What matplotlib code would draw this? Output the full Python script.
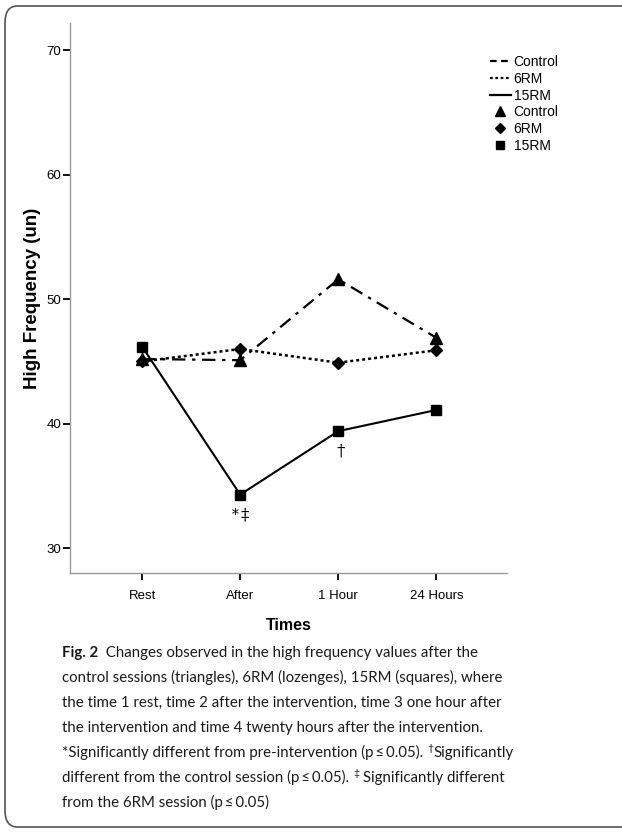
import matplotlib
matplotlib.use("Agg")
import matplotlib.pyplot as plt
from matplotlib.lines import Line2D
from matplotlib.patches import FancyBboxPatch

times = ["Rest", "After", "1 Hour", "24 Hours"]
control = [45.2, 45.1, 51.6, 46.9]
rm6 = [45.0, 46.0, 44.9, 45.9]
rm15 = [46.2, 34.3, 39.4, 41.1]
yticks = [30, 40, 50, 60, 70]

W, H = 622, 832
fig = plt.figure(figsize=(W / 100, H / 100), dpi=100)
chart_font = "Liberation Sans"
cap_font = "Lato"

# frame round the figure
frame = FancyBboxPatch((5 / W, 5 / H), (W + 20) / W, (H - 11) / H,
                       boxstyle="round,pad=0,rounding_size=0.02",
                       transform=fig.transFigure, fill=False,
                       edgecolor="#555555", linewidth=1.2)
fig.patches.append(frame)

ax = fig.add_axes([70 / W, (H - 573) / H, (507 - 70) / W, (573 - 23) / H])
x = [1, 2, 3, 4]
ax.plot(x, control, color="black", lw=1.6, linestyle=(0, (6, 3, 1.5, 3)),
        marker="^", markersize=8.5)
ax.plot(x, rm6, color="black", lw=1.8, linestyle=(0, (1.2, 1.2)),
        marker="D", markersize=6.5)
ax.plot(x, rm15, color="black", lw=1.5, linestyle="-",
        marker="s", markersize=6.5)

ax.set_xlim(0.265, 4.72)
ax.set_ylim(28.0, 72.2)
ax.set_xticks(x)
ax.set_xticklabels(times, fontfamily=chart_font, fontsize=9.5)
ax.set_yticks(yticks)
ax.set_yticklabels([str(v) for v in yticks], fontfamily=chart_font, fontsize=9.5)
ax.tick_params(axis="both", length=5, width=1.3, color="black", pad=1.5)
ax.tick_params(axis="x", pad=7)
for s in ["top", "right"]:
    ax.spines[s].set_visible(False)
for s in ["left", "bottom"]:
    ax.spines[s].set_color("#999999")
    ax.spines[s].set_linewidth(1.0)

ax.set_xlabel("Times", fontfamily=chart_font, fontsize=11.5, fontweight="bold", labelpad=12)
ax.set_ylabel("High Frequency (un)", fontfamily=chart_font, fontsize=13.5,
              fontweight="bold", labelpad=4)

ax.text(1.98, 34.3 - 1.6, "*", ha="right", va="center",
        fontfamily="DejaVu Serif", fontsize=10)
ax.text(2.05, 34.3 - 1.6, "\u2021", ha="center", va="center",
        fontfamily="DejaVu Serif", fontsize=12)
ax.text(3.02, 39.4 - 1.6, "\u2020", ha="center", va="center",
        fontfamily="DejaVu Serif", fontsize=12)

handles = [
    Line2D([], [], color="black", lw=1.6, linestyle=(0, (3, 2))),
    Line2D([], [], color="black", lw=1.6, linestyle=(0, (1.2, 1.2))),
    Line2D([], [], color="black", lw=1.6, linestyle="-"),
    Line2D([], [], color="black", lw=0, marker="^", markersize=7),
    Line2D([], [], color="black", lw=0, marker="D", markersize=5.5),
    Line2D([], [], color="black", lw=0, marker="s", markersize=5.5),
]
labels = ["Control", "6RM", "15RM", "Control", "6RM", "15RM"]
ax.legend(handles, labels, loc="upper left", bbox_to_anchor=((483 - 70) / (507 - 70), (573 - 48) / 550),
          frameon=False, prop={"family": chart_font, "size": 10},
          handlelength=1.5, handletextpad=0.2, labelspacing=0.2, borderpad=0)

# caption
renderer = fig.canvas.get_renderer()
cap_size = 10.8
x0 = 62
line_y = [652, 677, 702, 727, 752, 777, 802]


def draw_segments(segs, ytop):
    cx = x0
    for txt, size, weight, rise in segs:
        t = fig.text(cx / W, (H - ytop + rise) / H, txt, fontfamily=cap_font,
                     fontsize=size, fontweight=weight, va="baseline", ha="left",
                     color="#1a1a1a")
        bb = t.get_window_extent(renderer=renderer)
        cx += bb.width


lines = [
    [("Fig. 2", cap_size, "bold", 0), ("  Changes observed in the high frequency values after the", cap_size, "normal", 0)],
    [("control sessions (triangles), 6RM (lozenges), 15RM (squares), where", cap_size, "normal", 0)],
    [("the time 1 rest, time 2 after the intervention, time 3 one hour after", cap_size, "normal", 0)],
    [("the intervention and time 4 twenty hours after the intervention.", cap_size, "normal", 0)],
    [("*Significantly different from pre-intervention (p\u2009\u2264\u20090.05). ", cap_size, "normal", 0),
     ("\u2020", 7.5, "normal", 6), ("Significantly", cap_size, "normal", 0)],
    [("different from the control session (p\u2009\u2264\u20090.05). ", cap_size, "normal", 0),
     ("\u2021", 7.5, "normal", 6), (" Significantly different", cap_size, "normal", 0)],
    [("from the 6RM session (p\u2009\u2264\u20090.05)", cap_size, "normal", 0)],
]
for segs, yy in zip(lines, line_y):
    draw_segments(segs, yy + 5)

fig.savefig("out.png", dpi=100)
